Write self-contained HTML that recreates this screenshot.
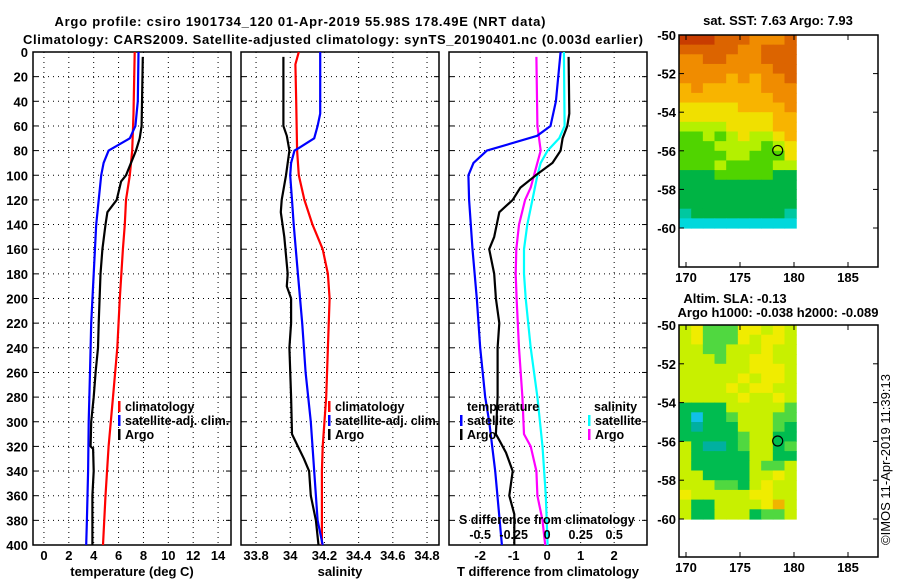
<!DOCTYPE html>
<html><head><meta charset="utf-8"><style>
body{margin:0;background:#fff}
svg text{font-family:"Liberation Sans",sans-serif;font-weight:bold;font-size:13px;fill:#000}
svg text.lg{font-size:12.5px}
</style></head><body>
<svg id="c" width="900" height="580" xmlns="http://www.w3.org/2000/svg">
<text x="300" y="26" text-anchor="middle" font-size="14" textLength="491">Argo profile: csiro 1901734_120 01-Apr-2019 55.98S 178.49E (NRT data)</text>
<text x="333" y="44" text-anchor="middle" font-size="14" textLength="620">Climatology: CARS2009. Satellite-adjusted climatology: synTS_20190401.nc (0.003d earlier)</text>
<text x="778" y="25" text-anchor="middle">sat. SST: 7.63 Argo: 7.93</text>
<text x="735" y="303" text-anchor="middle">Altim. SLA: -0.13</text>
<text x="778" y="317" text-anchor="middle">Argo h1000: -0.038 h2000: -0.089</text>
<text transform="translate(890,545) rotate(-90)" style="font-weight:normal" font-size="12">©IMOS 11-Apr-2019 11:39:13</text>
</svg>
<script>
// ---- data ----
const depthTicks=[0,20,40,60,80,100,120,140,160,180,200,220,240,260,280,300,320,340,360,380,400];
const tTicks=[0,2,4,6,8,10,12,14];
const sTicks=[33.8,34,34.2,34.4,34.6,34.8];
const dTicks=[-2,-1,0,1,2];
const sdTicks=[-0.5,-0.25,0,0.25,0.5];
const climTDepth=[0,50,80,100,120,140,160,200,240,280,320,360,400];
const climT=[7.3,7.2,7.1,6.9,6.6,6.5,6.35,6.1,5.9,5.55,5.2,4.95,4.75];
const satTDepth=[0,40,60,70,80,90,100,120,140,180,220,260,300,340,380,400];
const satT=[7.6,7.55,7.35,6.9,5.2,4.8,4.6,4.4,4.2,4.0,3.8,3.7,3.6,3.55,3.45,3.4];
const argoTDepth=[4,60,70,80,90,100,105,120,130,140,160,180,220,240,260,280,300,320,322,340,360,400];
const argoT=[7.95,7.85,7.7,7.4,7.0,6.6,6.2,5.85,5.1,4.95,4.7,4.55,4.4,4.35,4.15,4.0,3.8,3.75,3.95,4.0,3.9,3.9];
const climSDepth=[0,10,40,80,100,120,140,160,180,200,240,280,320,340,400];
const climS=[34.05,34.03,34.035,34.04,34.05,34.083,34.13,34.19,34.22,34.23,34.22,34.21,34.19,34.185,34.185];
const satSDepth=[0,50,60,70,78,80,90,100,120,140,180,220,260,300,340,380,400];
const satS=[34.175,34.175,34.16,34.14,34.05,34.025,34.005,34.0,34.01,34.02,34.045,34.07,34.09,34.12,34.14,34.16,34.19];
const argoSDepth=[4,60,68,80,100,120,130,150,180,190,200,220,240,280,310,320,330,340,360,380,400];
const argoS=[33.96,33.96,33.98,33.995,33.975,33.95,33.945,33.965,33.985,33.98,34.005,34.005,33.995,34.005,34.01,34.045,34.08,34.11,34.12,34.15,34.165];
const satDTDepth=[0,40,60,68,80,90,100,120,160,200,240,280,300,340,400];
const satDT=[0.4,0.26,0.1,-0.3,-1.8,-2.2,-2.35,-2.33,-2.23,-2.1,-2.0,-1.85,-1.73,-1.55,-1.35];
const argoDTDepth=[4,50,60,70,80,90,100,110,120,130,150,160,180,200,220,240,280,310,315,325,340,360,375,400];
const argoDT=[0.64,0.66,0.6,0.46,0.4,0.16,-0.34,-0.8,-1.03,-1.43,-1.58,-1.73,-1.58,-1.53,-1.43,-1.48,-1.48,-1.53,-1.43,-1.23,-1.03,-1.13,-0.98,-0.98];
const satDSDepth=[0,60,70,80,90,100,120,140,160,180,200,240,280,320,360,400];
const satDS=[0.125,0.13,0.09,0.003,-0.048,-0.073,-0.11,-0.148,-0.173,-0.173,-0.16,-0.123,-0.073,-0.035,-0.01,0.003];
const argoDSDepth=[4,60,80,100,110,120,140,160,180,200,240,280,310,320,340,360,380,400];
const argoDS=[-0.08,-0.073,-0.048,-0.098,-0.123,-0.165,-0.21,-0.23,-0.235,-0.228,-0.21,-0.185,-0.173,-0.123,-0.08,-0.073,-0.035,-0.015];
const latTicks=[-50,-52,-54,-56,-58,-60];
const lonTicks=[170,175,180,185];
const argoLon=178.49, argoLat=-55.98;
const sstPal={'0':'#c83c00','1':'#dc6400','2':'#f08c00','3':'#f8b400','4':'#f0e000','5':'#b4f000','6':'#50d400','7':'#00b444','8':'#00c8a0','9':'#00d8dc'};
const sstGrid=["0001112221","1111122111","2211222111","2222222211","2222323221","3233333222","3333333322","4444433332","4444444433","5555444433","6656545543","6665555654","6666556664","6665666655","7776666677","7777777777","7777777777","7777777777","8777777778","9999999999"];
const slaPal={'3':'#f0b400','4':'#f0ec00','5':'#c8f000','6':'#50d840','7':'#00bc50','8':'#00b0a0','9':'#10c0e8'};
const slaGrid=["5466644545","5466645445","5566555455","5556554455","5555554445","5555545445","5555454455","5555545545","7777555556","7977655566","7877755567","7777765577","5788765576","5777775577","5777775665","5577775545","5556675455","4555554455","5775555435","5775557665"];

// ---- helpers ----
const svg=document.getElementById('c');
const NS='http://www.w3.org/2000/svg';
function mk(tag,attrs,parent){const e=document.createElementNS(NS,tag);for(const k in attrs)e.setAttribute(k,attrs[k]);(parent||svg).appendChild(e);return e;}
const Y0=52,Y1=545;
const yD=d=>Y0+(Y1-Y0)*d/400;

function panel(name,x0,x1,vmin,vmax,ticks,fmt,gridTicks,title){
  const xs=v=>x0+(x1-x0)*(v-vmin)/(vmax-vmin);
  const g=mk('g',{});
  
  
  depthTicks.forEach(d=>{if(d>0&&d<400){mk('line',{x1:x0,x2:x1,y1:yD(d),y2:yD(d),stroke:'#000','stroke-width':1,'stroke-dasharray':'1,4'},g);}
    mk('line',{x1:x0,x2:x0+5,y1:yD(d),y2:yD(d),stroke:'#000'},g);mk('line',{x1:x1-5,x2:x1,y1:yD(d),y2:yD(d),stroke:'#000'},g);});
  gridTicks.forEach(v=>{mk('line',{x1:xs(v),x2:xs(v),y1:Y0,y2:Y1,stroke:'#000','stroke-dasharray':'1,4'},g);});
  ticks.forEach(v=>{const t=mk('text',{x:xs(v),y:560,'text-anchor':'middle'},g);t.textContent=fmt(v);});
  mk('rect',{x:x0,y:Y0,width:x1-x0,height:Y1-Y0,fill:'none',stroke:'#000','stroke-width':1.5},g);
  const tt=mk('text',{x:(x0+x1)/2,y:576,'text-anchor':'middle'},g);tt.textContent=title;
  return {xs,g};
}
function line(p,depths,vals,color,name,scale){
  const pts=depths.map((d,i)=>p.xs(vals[i]*(scale||1)).toFixed(1)+','+yD(d).toFixed(1)).join(' ');
  const l=mk('polyline',{points:pts,fill:'none',stroke:color,'stroke-width':2.2,'stroke-linejoin':'round'},p.g);
  
  
}
function legend(g,x,y,color,label,name){
  mk('rect',{x:x,y:y-10,width:2.5,height:11,fill:color},g);
  const t=mk('text',{x:x+7,y:y,class:'lg'},g);t.textContent=label;
  
  
}

// depth labels
depthTicks.forEach(d=>{const t=mk('text',{x:28,y:yD(d)+5,'text-anchor':'end'});t.textContent=d;});

// panel 1
const p1=panel('temperature-panel',33,231,-0.88,15.04,tTicks,v=>v,tTicks,'temperature (deg C)');
line(p1,climTDepth,climT,'#ff0000','temperature-climatology-line');
line(p1,satTDepth,satT,'#0000ff','temperature-satellite-line');
line(p1,argoTDepth,argoT,'#000','temperature-argo-line');
legend(p1.g,118,411,'#ff0000','climatology','legend-climatology');
legend(p1.g,118,425,'#0000ff','satellite-adj. clim.','legend-satellite');
legend(p1.g,118,439,'#000','Argo','legend-argo');

// panel 2
const p2=panel('salinity-panel',241,439,33.712,34.87,sTicks,v=>String(+v.toFixed(1)),sTicks,'salinity');
line(p2,climSDepth,climS,'#ff0000','salinity-climatology-line');
line(p2,satSDepth,satS,'#0000ff','salinity-satellite-line');
line(p2,argoSDepth,argoS,'#000','salinity-argo-line');
legend(p2.g,328,411,'#ff0000','climatology','legend-climatology-s');
legend(p2.g,328,425,'#0000ff','satellite-adj. clim.','legend-satellite-s');
legend(p2.g,328,439,'#000','Argo','legend-argo-s');

// panel 3
const p3=panel('difference-panel',449,647,-2.93,2.98,dTicks,v=>v,dTicks,'T difference from climatology');
line(p3,satDSDepth,satDS,'#00ffff','salinity-diff-satellite-line',4);
line(p3,argoDSDepth,argoDS,'#ff00ff','salinity-diff-argo-line',4);
line(p3,satDTDepth,satDT,'#0000ff','temperature-diff-satellite-line');
line(p3,argoDTDepth,argoDT,'#000','temperature-diff-argo-line');
{const t=mk('text',{x:467,y:411,class:'lg'},p3.g);t.textContent='temperature';
 const s=mk('text',{x:594,y:411,class:'lg'},p3.g);s.textContent='salinity';}
legend(p3.g,460,425,'#0000ff','satellite','legend-temp-satellite');
legend(p3.g,460,439,'#000','Argo','legend-temp-argo');
legend(p3.g,588,425,'#00ffff','satellite','legend-sal-satellite');
legend(p3.g,588,439,'#ff00ff','Argo','legend-sal-argo');
{const t=mk('text',{x:459,y:524,class:'lg'},p3.g);t.textContent='S difference from climatology';
 sdTicks.forEach(v=>{const l=mk('text',{x:p3.xs(v*4),y:539,'text-anchor':'middle',class:'lg'},p3.g);l.textContent=String(v);});}

// maps
function map(name,y0,y1,latBot,pal,grid){
  const x0=679,x1=878;
  const lonS=v=>686+(848-686)*(v-170)/15;
  const latS=v=>y0+(latBot-y0)*(v+50)/-10;
  const g=mk('g',{});
  
  
  const rows=grid.length,cols=grid[0].length;
  const lonA=169.4,lonB=180.2;
  const cw=(lonS(lonB)-lonS(lonA))/cols, ch=(latS(-60)-latS(-50))/rows;
  grid.forEach((r,i)=>{for(let j=0;j<cols;j++){mk('rect',{x:(lonS(lonA)+j*cw).toFixed(2),y:(latS(-50)+i*ch).toFixed(2),width:(cw+0.6).toFixed(2),height:(ch+0.6).toFixed(2),fill:pal[r[j]]},g);}});
  mk('rect',{x:x0,y:y0,width:x1-x0,height:y1-y0,fill:'none',stroke:'#000','stroke-width':1.5},g);
  latTicks.forEach(v=>{mk('line',{x1:x0,x2:x0+5,y1:latS(v),y2:latS(v),stroke:'#000'},g);mk('line',{x1:x1-5,x2:x1,y1:latS(v),y2:latS(v),stroke:'#000'},g);
    const t=mk('text',{x:676,y:latS(v)+5,'text-anchor':'end'},g);t.textContent=v;});
  lonTicks.forEach(v=>{mk('line',{x1:lonS(v),x2:lonS(v),y1:y0,y2:y0+5,stroke:'#000'},g);mk('line',{x1:lonS(v),x2:lonS(v),y1:y1-5,y2:y1,stroke:'#000'},g);
    const t=mk('text',{x:lonS(v),y:y1+15,'text-anchor':'middle'},g);t.textContent=v;});
  const c=mk('circle',{cx:lonS(argoLon),cy:latS(argoLat),r:5,fill:'none',stroke:'#000','stroke-width':1.2},g);
  
  
}
map('sst-map',35,267,228,sstPal,sstGrid);
map('sla-map',325,557,519,slaPal,slaGrid);
</script>
</body></html>
